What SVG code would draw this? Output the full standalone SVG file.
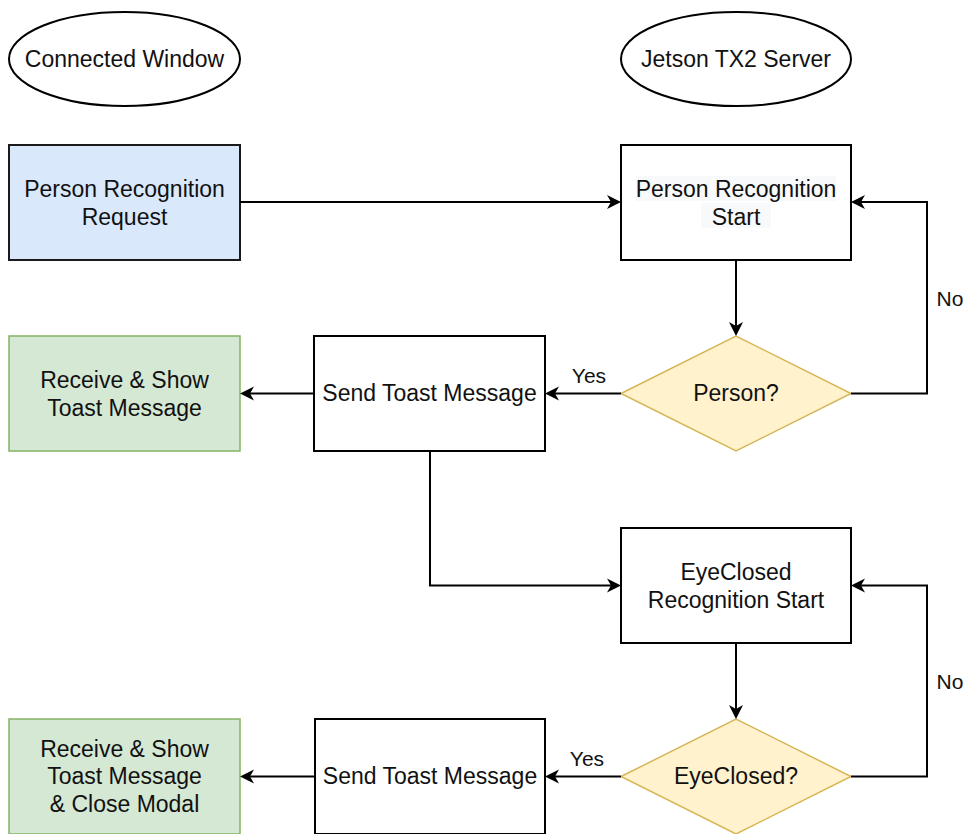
<svg xmlns="http://www.w3.org/2000/svg" width="970" height="834" viewBox="0 0 970 834">
  <style>
    text { font-family: "Liberation Sans", Arial, Helvetica, sans-serif; font-size: 23px; fill: #111; text-anchor: middle; }
    .lbl { font-size: 21px; }
    .plain { fill: #ffffff; stroke: #000; stroke-width: 2; }
    .blue { fill: #dae8fc; stroke: #1a1a1a; stroke-width: 2; }
    .green { fill: #d5e8d4; stroke: #82b366; stroke-width: 1.5; }
    .yellow { fill: #fff2cc; stroke: #d6b656; stroke-width: 1.5; }
    .edge { fill: none; stroke: #000; stroke-width: 2; marker-end: url(#arrow); }
  </style>
  <defs>
    <!-- classic filled arrowhead; tip sits 10px beyond the line end -->
    <marker id="arrow" markerUnits="userSpaceOnUse" viewBox="-5 -8 16 16" refX="0" refY="0" markerWidth="16" markerHeight="16" orient="auto">
      <path d="M10,0 L-4,-7 L0,0 L-4,7 Z" fill="#000"/>
    </marker>
  </defs>

  <rect width="970" height="834" fill="#ffffff"/>

  <!-- lane headers -->
  <g id="lane-window">
    <ellipse cx="124.5" cy="59" rx="115.5" ry="47" class="plain" stroke-width="1.5"/>
    <text x="124.5" y="67">Connected Window</text>
  </g>
  <g id="lane-server">
    <ellipse cx="736" cy="59" rx="115" ry="47" class="plain" stroke-width="1.5"/>
    <text x="736" y="67">Jetson TX2 Server</text>
  </g>

  <!-- nodes -->
  <g id="person-request">
    <rect x="9" y="145" width="231" height="115" class="blue"/>
    <text x="124.5" y="197">Person Recognition</text>
    <text x="124.5" y="225">Request</text>
  </g>
  <g id="person-start">
    <rect x="621" y="145" width="230" height="115" class="plain"/>
    <rect x="636" y="176" width="200" height="25" fill="#f8f9fa"/>
    <rect x="701" y="203" width="70" height="25" fill="#f8f9fa"/>
    <text x="736" y="197">Person Recognition</text>
    <text x="736" y="225">Start</text>
  </g>
  <g id="person-decision">
    <polygon points="621,393.5 736,336 851,393.5 736,451" class="yellow"/>
    <text x="736" y="401">Person?</text>
  </g>
  <g id="send-toast-1">
    <rect x="314" y="336" width="231" height="115" class="plain"/>
    <text x="429.5" y="401">Send Toast Message</text>
  </g>
  <g id="show-toast-1">
    <rect x="9" y="336" width="231" height="115" class="green"/>
    <text x="124.5" y="388">Receive &amp; Show</text>
    <text x="124.5" y="416">Toast Message</text>
  </g>
  <g id="eye-start">
    <rect x="621" y="528" width="230" height="115" class="plain"/>
    <text x="736" y="580">EyeClosed</text>
    <text x="736" y="608">Recognition Start</text>
  </g>
  <g id="eye-decision">
    <polygon points="621,776.5 736,719 851,776.5 736,834" class="yellow"/>
    <text x="736" y="784">EyeClosed?</text>
  </g>
  <g id="send-toast-2">
    <rect x="315" y="719" width="230" height="115" class="plain"/>
    <text x="430" y="784">Send Toast Message</text>
  </g>
  <g id="show-toast-2">
    <rect x="9" y="719" width="231" height="115" class="green"/>
    <text x="124.5" y="757">Receive &amp; Show</text>
    <text x="124.5" y="784">Toast Message</text>
    <text x="124.5" y="812">&amp; Close Modal</text>
  </g>

  <!-- connectors -->
  <g id="connectors">
    <path class="edge" d="M240,202 H611"/>
    <path class="edge" d="M736,260 V326"/>
    <path class="edge" d="M851,393.5 H927 V202 H861"/>
    <path class="edge" d="M621,393.5 H555"/>
    <path class="edge" d="M314,393.5 H250"/>
    <path class="edge" d="M430,451 V585.5 H611"/>
    <path class="edge" d="M736,643 V709"/>
    <path class="edge" d="M851,776.5 H927 V585.5 H861"/>
    <path class="edge" d="M621,776.5 H555"/>
    <path class="edge" d="M315,776.5 H250"/>
    <text class="lbl" x="589" y="383">Yes</text>
    <text class="lbl" x="950" y="306">No</text>
    <text class="lbl" x="587" y="766">Yes</text>
    <text class="lbl" x="950" y="689">No</text>
  </g>
</svg>
